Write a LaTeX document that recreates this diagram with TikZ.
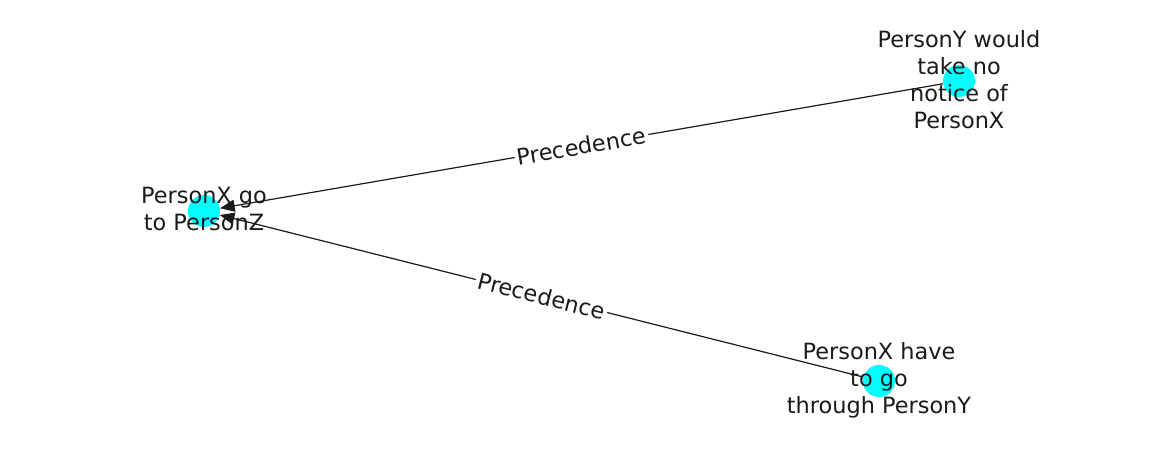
\documentclass[tikz,border=0pt]{standalone}
\usepackage{fontspec}
\setmainfont{DejaVu Sans}
\usetikzlibrary{arrows.meta}
\definecolor{nodecyan}{RGB}{0,255,255}
\definecolor{ink}{RGB}{26,26,26}
\begin{document}
\begin{tikzpicture}[x=0.75pt,y=-0.75pt,
  dot/.style={circle,fill=nodecyan,minimum size=24pt,inner sep=0pt},
  lbl/.style={align=center,text=ink,font=\fontsize{16.8pt}{20.2pt}\selectfont,inner sep=0pt},
  edge/.style={draw=ink,line width=0.9pt,-{Triangle[length=11pt,width=9pt]}},
  elabel/.style={fill=white,text=ink,font=\fontsize{16.8pt}{20pt}\selectfont,inner sep=2pt,sloped}]
\useasboundingbox (0,0) rectangle (1162,462);
\node[dot] (x) at (204,211) {};
\node[dot] (y) at (959,81) {};
\node[dot] (z) at (879,381) {};
\draw[edge] (y) -- node[elabel] (e1) {Precedence} (x);
\draw[edge] (z) -- node[elabel] (e2) {Precedence} (x);
\node[lbl] (xt) at (204,209) {PersonX go\\to PersonZ};
\node[lbl] (yt) at (959,80) {PersonY would\\take no\\notice of\\PersonX};
\node[lbl] (zt) at (879,380) {PersonX have\\to go\\through PersonY};
\end{tikzpicture}
\end{document}
